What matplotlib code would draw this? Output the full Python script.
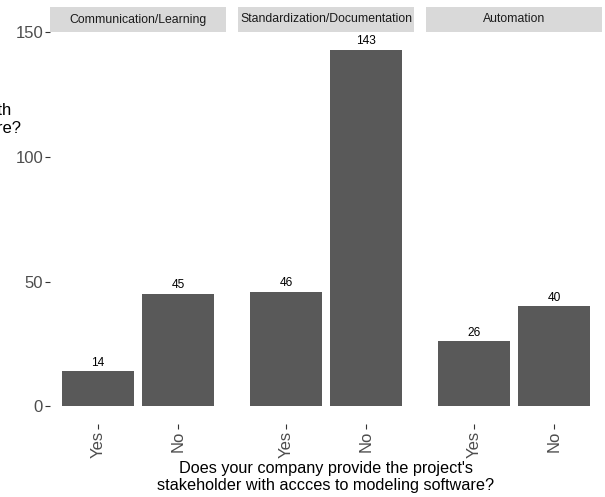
import matplotlib.pyplot as plt
import numpy as np

plt.rcParams['font.family'] = ['Liberation Sans', 'DejaVu Sans']

# data
categories = ["Communication/Learning", "Standardization/Documentation", "Automation"]
answers = ["Yes", "No"]
yes_counts = [14, 46, 26]
no_counts = [45, 143, 40]

W, H = 605, 497
fig = plt.figure(figsize=(W / 100, H / 100), dpi=100)

ymin, ymax = -7.15, 150.15
top, bottom = 32, 424
strip_top = 7
panel_left = [50, 238, 426]
panel_w = 176

bar_color = "#595959"
tick_color = "#4D4D4D"

for i, cat in enumerate(categories):
    x0 = panel_left[i]
    ax = fig.add_axes([x0 / W, 1 - bottom / H, panel_w / W, (bottom - top) / H])
    vals = [yes_counts[i], no_counts[i]]
    pos = np.arange(1, len(answers) + 1)
    ax.bar(pos, vals, width=0.9, color=bar_color)
    for p, v in zip(pos, vals):
        ax.annotate(str(v), (p, v), xytext=(0, 2), textcoords="offset points",
                    ha="center", va="bottom", fontsize=8.6, color="black")
    ax.set_xlim(0.4, 2.6)
    ax.set_ylim(ymin, ymax)
    ax.set_xticks(pos)
    ax.set_xticklabels(answers, rotation=90, fontsize=12, color=tick_color)
    ax.set_yticks([0, 50, 100, 150])
    if i == 0:
        ax.set_yticklabels(["0", "50", "100", "150"], fontsize=12, color=tick_color)
    else:
        ax.tick_params(axis="y", left=False, labelleft=False)
    ax.tick_params(axis="both", color="#333333", length=3.5, width=0.8, pad=1.5)
    for s in ax.spines.values():
        s.set_visible(False)

    # strip
    sax = fig.add_axes([x0 / W, 1 - top / H, panel_w / W, (top - strip_top) / H])
    sax.set_facecolor("#D9D9D9")
    sax.set_xticks([])
    sax.set_yticks([])
    for s in sax.spines.values():
        s.set_visible(False)
    sax.text(0.5, 0.5, cat, ha="center", va="center", fontsize=8.8, color="#1A1A1A",
             transform=sax.transAxes)

fig.text(326 / W, 1 - 477 / H,
         "Does your company provide the project's\nstakeholder with accces to modeling software?",
         ha="center", va="center", fontsize=11.7, linespacing=1.2)

fig.text(-51 / W, 1 - 110 / H,
         "The use case\nis supported with\nmodeling software?",
         ha="center", va="center", fontsize=12, linespacing=1.25)

fig.savefig("out.png", dpi=100)
